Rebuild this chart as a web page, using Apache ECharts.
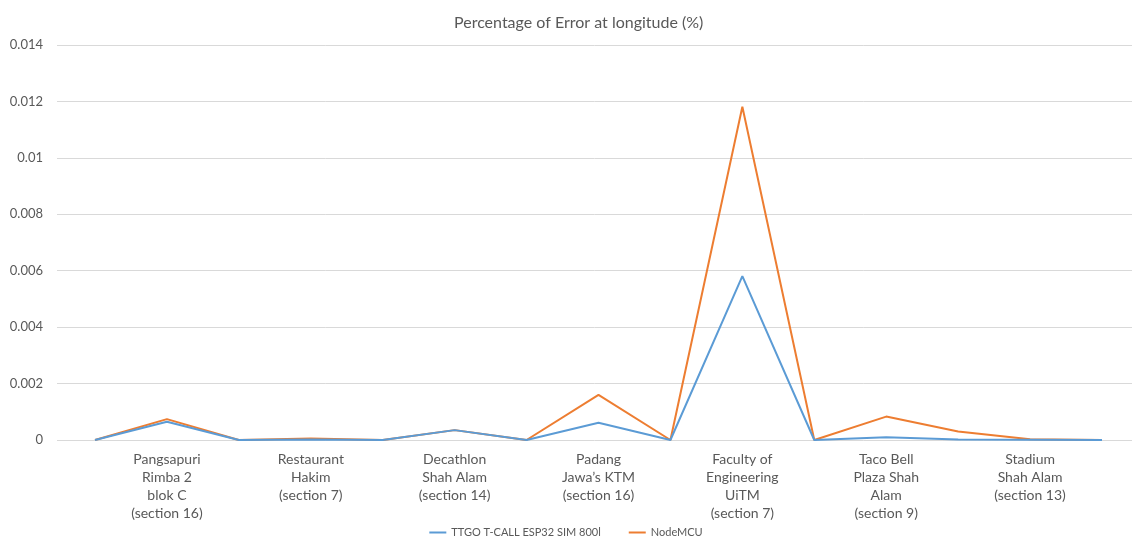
<!DOCTYPE html>
<html>
<head>
<meta charset="utf-8">
<script src="https://cdn.jsdelivr.net/npm/echarts@6/dist/echarts.min.js"></script>
<style>
  html, body { margin: 0; padding: 0; background: #fff; }
  #chart { width: 1132px; height: 544px; }
</style>
</head>
<body>
<div id="chart"></div>
<script>
// Locations (labels sit on every other point; the points between are unlabeled)
const categories = [
  '',
  'Pangsapuri\nRimba 2\nblok C\n(section 16)',
  '',
  'Restaurant\nHakim\n(section 7)',
  '',
  'Decathlon\nShah Alam\n(section 14)',
  '',
  'Padang\nJawa\u2019s KTM\n(section 16)',
  '',
  'Faculty of\nEngineering\nUiTM\n(section 7)',
  '',
  'Taco Bell\nPlaza Shah\nAlam\n(section 9)',
  '',
  'Stadium\nShah Alam\n(section 13)',
  ''
];

// Percentage of error at longitude (%)
const ttgoValues = [0, 0.00065, 0, 0.00002, 0, 0.00035, 0, 0.00061, 0, 0.00581, 0, 0.0001, 0.00002, 0.00001, 0];
const nodeMcuValues = [0, 0.00074, 0, 0.00005, 0, 0.00035, 0, 0.0016, 0, 0.01181, 0, 0.00083, 0.0003, 0.00003, 0];

const seriesNames = ['TTGO T-CALL ESP32 SIM 800l', 'NodeMCU'];
const yTicks = { min: 0, max: 0.014, interval: 0.002 };

const textColor = '#595959';
const gridColor = '#d9d9d9';
const fontFamily = 'Lato, "Open Sans", sans-serif';

const plotTop = 45;
const plotBottom = 104;

const chart = echarts.init(document.getElementById('chart'), null, { renderer: 'canvas' });
chart.setOption({
  backgroundColor: '#ffffff',
  animation: false,
  title: {
    text: 'Percentage of Error at longitude (%)',
    left: 449,
    top: 10,
    textStyle: { color: textColor, fontSize: 16, fontWeight: 'normal', fontFamily: fontFamily }
  },
  legend: {
    bottom: 1,
    left: 'center',
    icon: 'rect',
    itemWidth: 17,
    itemHeight: 2,
    itemGap: 28,
    textStyle: { color: textColor, fontSize: 11, fontFamily: fontFamily },
    data: seriesNames
  },
  grid: [
    // full-width frame: value labels and horizontal gridlines
    { left: 57, right: 0, top: plotTop, bottom: plotBottom },
    // data area: first and last points sit inset from the gridline ends
    { left: 95, right: 30, top: plotTop, bottom: plotBottom }
  ],
  xAxis: [
    { gridIndex: 0, type: 'value', min: 0, max: 1, show: false },
    {
      gridIndex: 1,
      type: 'category',
      data: categories,
      boundaryGap: false,
      axisLine: { show: false },
      axisTick: { show: false },
      axisLabel: {
        interval: 0,
        color: textColor,
        fontSize: 14,
        lineHeight: 18,
        margin: 10,
        fontFamily: fontFamily
      },
      splitLine: { show: false }
    }
  ],
  yAxis: [
    {
      gridIndex: 0,
      type: 'value',
      min: yTicks.min,
      max: yTicks.max,
      interval: yTicks.interval,
      axisLine: { show: false },
      axisTick: { show: false },
      axisLabel: {
        color: textColor,
        fontSize: 13,
        margin: 14,
        fontFamily: fontFamily,
        formatter: v => (v === 0 ? '0' : String(parseFloat(v.toFixed(3))))
      },
      splitLine: { lineStyle: { color: gridColor, width: 1 } }
    },
    {
      gridIndex: 1,
      type: 'value',
      min: yTicks.min,
      max: yTicks.max,
      interval: yTicks.interval,
      show: false,
      splitLine: { show: false }
    }
  ],
  series: [
    {
      name: seriesNames[0],
      type: 'line',
      xAxisIndex: 1,
      yAxisIndex: 1,
      data: ttgoValues,
      showSymbol: false,
      symbol: 'none',
      lineStyle: { color: '#5B9BD5', width: 2 },
      itemStyle: { color: '#5B9BD5' },
      z: 3
    },
    {
      name: seriesNames[1],
      type: 'line',
      xAxisIndex: 1,
      yAxisIndex: 1,
      data: nodeMcuValues,
      showSymbol: false,
      symbol: 'none',
      lineStyle: { color: '#ED7D31', width: 2 },
      itemStyle: { color: '#ED7D31' },
      z: 2
    }
  ]
});
</script>
</body>
</html>
